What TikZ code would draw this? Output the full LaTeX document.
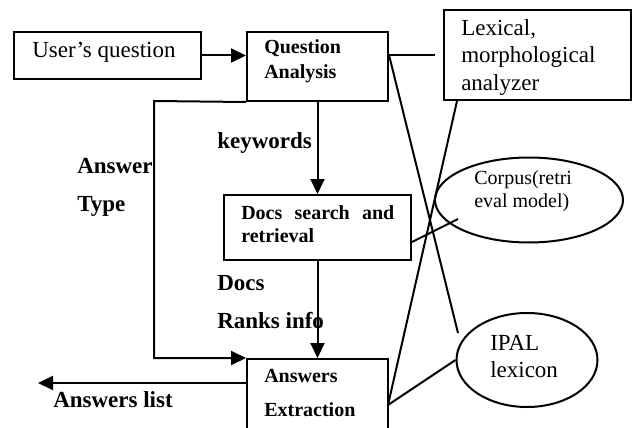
\documentclass[tikz,border=0pt]{standalone}
\usepackage{fontspec}
\setmainfont{Liberation Serif}
\usetikzlibrary{arrows.meta,shapes.geometric}
\begin{document}
\begin{tikzpicture}[x=0.75pt,y=-0.75pt,
 box/.style={draw,line width=1.5pt,inner sep=0pt,rectangle},
 oval/.style={draw,line width=1.5pt,inner sep=0pt,ellipse},
 link/.style={line width=1.5pt},
 arr/.style={line width=1.5pt,-{Triangle[length=11.25pt,width=10.5pt]}},
 big/.style={anchor=base west,inner sep=0pt,font=\fontsize{17.25}{20}\selectfont},
 small/.style={anchor=base west,inner sep=0pt,font=\fontsize{15}{18}\selectfont},
 bbig/.style={anchor=base west,inner sep=0pt,font=\fontsize{17.25}{20}\selectfont\bfseries},
 bsmall/.style={anchor=base west,inner sep=0pt,font=\fontsize{15}{18}\selectfont\bfseries}]
\useasboundingbox (0,0) rectangle (635,428);

% boxes
\node[box,minimum width=140.25pt,minimum height=35.25pt] (uq) at (107.5,55.5) {};
\node[box,minimum width=105.75pt,minimum height=51.75pt] (qa) at (317.5,66.5) {};
\node[box,minimum width=140.25pt,minimum height=67.5pt] (lex) at (537.5,55) {};
\node[box,minimum width=140.25pt,minimum height=48.75pt] (ds) at (317.5,227.5) {};
\node[box,minimum width=105.75pt,minimum height=60.75pt] (ae) at (317.5,399.5) {};
\node[oval,minimum width=141pt,minimum height=63.75pt] (corpus) at (529,200) {};
\node[oval,minimum width=105.75pt,minimum height=70.5pt] (ipal) at (527,360) {};

% texts
\node[big] (tuq) at (32,58) {User’s question};
\node[bsmall] (tqa1) at (264,54) {Question};
\node[bsmall] (tqa2) at (264,79) {Analysis};
\node[big] (tlex1) at (461,36) {Lexical,};
\node[big] (tlex2) at (461,63) {morphological};
\node[big] (tlex3) at (461,90) {analyzer};
\node[bbig] (tkw) at (217,148) {keywords};
\node[bbig] (tat1) at (77,173) {Answer};
\node[bbig] (tat2) at (77,211) {Type};
\node[bsmall] (tds1) at (241,219) {\makebox[114.75pt][s]{Docs search and}};
\node[bsmall] (tds2) at (241,242) {retrieval};
\node[bbig] (tdr1) at (217,290) {Docs};
\node[bbig] (tdr2) at (217,328) {Ranks info};
\node[bsmall] (tae1) at (264,382) {Answers};
\node[bsmall] (tae2) at (264,416) {Extraction};
\node[bbig] (tal) at (53,407) {Answers list};
\node[small] (tc1) at (474,184) {Corpus(retri};
\node[small] (tc2) at (474,207) {eval model)};
\node[big] (ti1) at (490,350) {IPAL};
\node[big] (ti2) at (490,377) {lexicon};

% free ends
\coordinate (lx) at (435,55);
\coordinate (atc) at (154,101);
\coordinate (al) at (38,383);
\coordinate (ipx) at (458,333);
\coordinate (aej) at (388,405);
\coordinate (cin) at (458,219);

% connectors
\draw[arr] (uq.east) -- (uq.east -| qa.west);
\draw[arr] (qa.south) -- (ds.north);
\draw[arr] (ds.south) -- (ae.north);
\draw[arr] (qa.south west) -- (atc) |- (ae.north west);
\draw[arr] (ae.west |- al) -- (al);
\draw[link] (qa.east |- lx) -- (lx);
\draw[link] (qa.east |- lx) -- (ipx);
\draw[link] (lex.south west) ++(14,0) -- (aej);
\draw[link] (aej) -- (ipal.west);
\draw[link] (ds.south east) ++(0,-19) -- (cin);
\end{tikzpicture}
\end{document}
